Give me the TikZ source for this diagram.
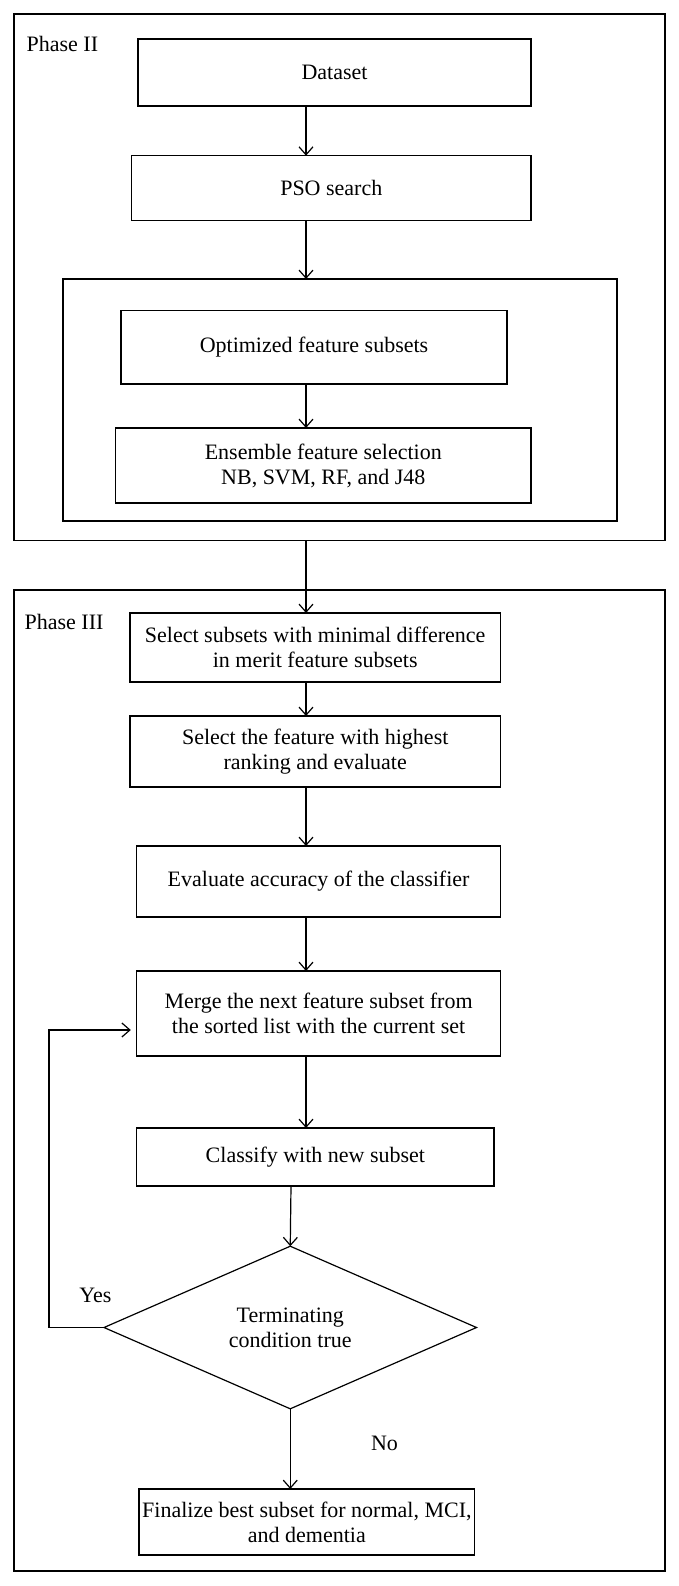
\documentclass[tikz,border=0pt]{standalone}
\usepackage{fontspec}
\setmainfont{Liberation Serif}
\usetikzlibrary{arrows.meta,shapes.geometric}

\begin{document}
\begin{tikzpicture}[x=1pt,y=-1pt,line width=1.2pt,
    box/.style={draw,rectangle,inner sep=0pt,outer sep=0pt,align=center,font=\fontsize{22}{25}\selectfont},
    frame/.style={draw,rectangle,inner sep=0pt,outer sep=0pt},
    cond/.style={draw,diamond,inner sep=0pt,outer sep=0pt,align=center,font=\fontsize{22}{25}\selectfont},
    lbl/.style={inner sep=0pt,font=\fontsize{22}{25}\selectfont},
    >={Straight Barb[length=8pt,width=14pt]}]
    \useasboundingbox (0,0) rectangle (679,1586);
    \fill[white] (0,0) rectangle (679,1586);
    % phase II
    \node[frame,minimum width=651pt,minimum height=526.5pt] (ph2) at (339.5,277.25) {};
    \node[frame,minimum width=554pt,minimum height=242pt] (inner) at (340,400) {};
    \node[lbl,anchor=west] (ph2lbl) at (26,44) {Phase II};
    \node[box,minimum width=393pt,minimum height=67pt] (dataset) at (334.5,72.5) {Dataset};
    \node[box,minimum width=399.4pt,minimum height=65pt] (pso) at (331.3,188.2) {PSO search};
    \node[box,minimum width=386pt,minimum height=73.3pt] (optim) at (314,347.3) {Optimized feature subsets};
    \node[box,minimum width=415.4pt,minimum height=75pt] (ens) at (323.3,465.5) {Ensemble feature selection\\NB, SVM, RF, and J48};
    % phase III
    \node[frame,minimum width=651pt,minimum height=981pt] (ph3) at (339.5,1080.5) {};
    \node[lbl,anchor=west] (ph3lbl) at (24,622) {Phase III};
    \node[box,minimum width=370.4pt,minimum height=69pt] (selsub) at (315.2,647.5) {Select subsets with minimal difference\\in merit feature subsets};
    \node[box,minimum width=370.4pt,minimum height=71pt] (selfeat) at (315.2,751.5) {Select the feature with highest\\ranking and evaluate};
    \node[box,minimum width=363.6pt,minimum height=71pt] (evalacc) at (318.6,881.5) {Evaluate accuracy of the classifier};
    \node[box,minimum width=363.6pt,minimum height=85pt] (merge) at (318.6,1013.5) {Merge the next feature subset from\\the sorted list with the current set};
    \node[box,minimum width=357.2pt,minimum height=58pt] (classify) at (315.4,1157) {Classify with new subset};
    \node[cond,minimum width=372.5pt,minimum height=131pt] (term) at (290.25,1327.5) {Terminating\\condition true};
    \node[box,minimum width=335.8pt,minimum height=66pt] (final) at (306.9,1522) {Finalize best subset for normal, MCI,\\and dementia};
    \node[lbl] (yes) at (95.5,1295) {Yes};
    \node[lbl] (no) at (384.5,1443) {No};
    \coordinate (spine) at (306,0);
    \coordinate (stem) at (291,0);
    \coordinate (back) at (49,1030);
    \foreach \a/\b in {dataset/pso,pso/inner,optim/ens,ph2/selsub,selsub/selfeat,selfeat/evalacc,evalacc/merge,merge/classify} {
      \draw[->] (\a.south -| spine) -- (\b.north -| spine);
    }
    \draw[->] (classify.south -| stem) -- (term.north);
    \draw[->] (term.south) -- (final.north -| term.south);
    \draw[->,shorten >=6pt] (term.west) -| (back) -- (merge.west |- back);
\end{tikzpicture}
\end{document}
